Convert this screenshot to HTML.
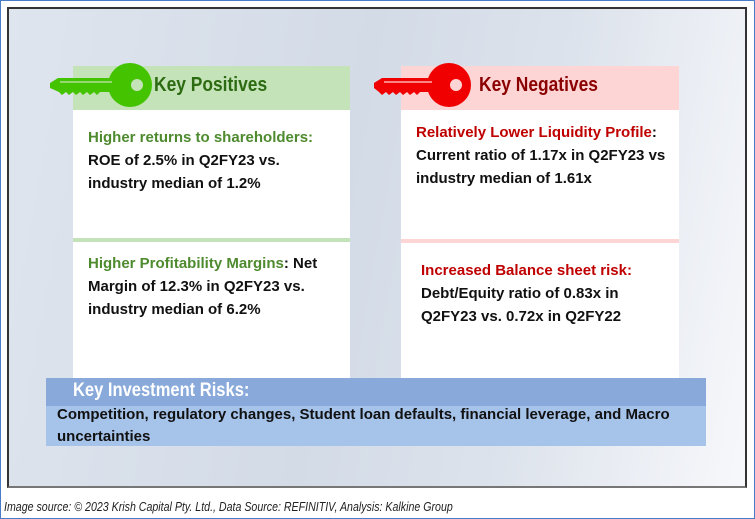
<!DOCTYPE html>
<html><head><meta charset="utf-8"><style>
*{margin:0;padding:0;box-sizing:border-box}
body{width:755px;height:519px;background:#fff;position:relative;font-family:"Liberation Sans",sans-serif;overflow:hidden}
.outer{position:absolute;left:0;top:0;width:755px;height:519px;border:1px solid #4a7bc8}
.frame{position:absolute;left:7px;top:7px;width:740px;height:481px;border:2px solid #333;border-bottom-color:#777;background:linear-gradient(100deg,#dfe5ee 0%,#d3dbe7 45%,#dde3ec 70%,#f7f8fb 100%)}
.box{position:absolute;background:#fff}
.hdr{position:absolute;height:44px}
.t{position:absolute;font-weight:bold;font-size:15px;line-height:23px;letter-spacing:0;color:#111;white-space:nowrap}
.g{color:#4e8a2e}.r{color:#c00000}
.title{position:absolute;font-weight:bold;font-size:20px;transform:scaleX(0.87);transform-origin:left;white-space:nowrap}
</style></head><body>
<div class="outer"></div>
<div class="frame"></div>
<div class="box" style="left:73px;top:110px;width:277px;height:268px"></div>
<div style="position:absolute;left:73px;top:238px;width:277px;height:4px;background:#c5e3b8"></div>
<div class="hdr" style="left:73px;top:66px;width:277px;background:#c5e3b8"></div>
<div class="box" style="left:401px;top:110px;width:278px;height:268px"></div>
<div style="position:absolute;left:401px;top:239px;width:278px;height:4px;background:#fdd5d5"></div>
<div class="hdr" style="left:401px;top:66px;width:278px;background:#fdd5d5"></div>
<svg style="position:absolute;left:0;top:0" width="755" height="519">
<g fill="#44c300">
<circle cx="130" cy="85" r="22"/>
<polygon points="50,83 58,78 112,78 112,92 100,92 97,95 94,92 90,95 87,92 83,95 80,92 76,95 73,92 69,95 66,92 62,95 59,92 50,88"/>
</g>
<circle cx="137" cy="85" r="6" fill="#c5e3b8"/>
<line x1="60" y1="82" x2="112" y2="82" stroke="#c5e3b8" stroke-width="1.3"/>
<g fill="#f00000">
<circle cx="449" cy="85" r="22"/>
<polygon points="374,83 382,78 432,78 432,92 420,92 417,95 414,92 410,95 407,92 403,95 400,92 396,95 393,92 389,95 386,92 382,95 379,92 374,88"/>
</g>
<circle cx="456" cy="85" r="6" fill="#fdd5d5"/>
<line x1="384" y1="82" x2="432" y2="82" stroke="#fdd5d5" stroke-width="1.3"/>
</svg>
<div class="title" style="left:154px;top:74px;color:#2d6b12">Key Positives</div>
<div class="title" style="left:479px;top:74px;color:#8b0000">Key Negatives</div>
<div class="t" style="left:88px;top:126px"><span class="g">Higher returns to shareholders:</span><br>ROE of 2.5% in Q2FY23 vs.<br>industry median of 1.2%</div>
<div class="t" style="left:88px;top:252px"><span class="g">Higher Profitability Margins</span>: Net<br>Margin of 12.3% in Q2FY23 vs.<br>industry median of 6.2%</div>
<div class="t" style="left:416px;top:121px"><span class="r">Relatively Lower Liquidity Profile</span>:<br>Current ratio of 1.17x in Q2FY23 vs<br>industry median of 1.61x</div>
<div class="t" style="left:421px;top:259px"><span class="r">Increased Balance sheet risk:</span><br>Debt/Equity ratio of 0.83x in<br>Q2FY23 vs. 0.72x in Q2FY22</div>
<div style="position:absolute;left:46px;top:378px;width:660px;height:28px;background:#88a9da"></div>
<div style="position:absolute;left:46px;top:406px;width:660px;height:40px;background:#a6c3ea"></div>
<div class="title" style="left:73px;top:380px;color:#fff;font-size:19px">Key Investment Risks:</div>
<div class="t" style="left:57px;top:404px;line-height:22px">Competition, regulatory changes, Student loan defaults, financial leverage, and Macro<br>uncertainties</div>
<div style="position:absolute;left:4px;top:500px;font-size:12.5px;font-style:italic;color:#222;transform:scaleX(0.85);transform-origin:left;white-space:nowrap">Image source: © 2023 Krish Capital Pty. Ltd., Data Source: REFINITIV, Analysis: Kalkine Group</div>
</body></html>
